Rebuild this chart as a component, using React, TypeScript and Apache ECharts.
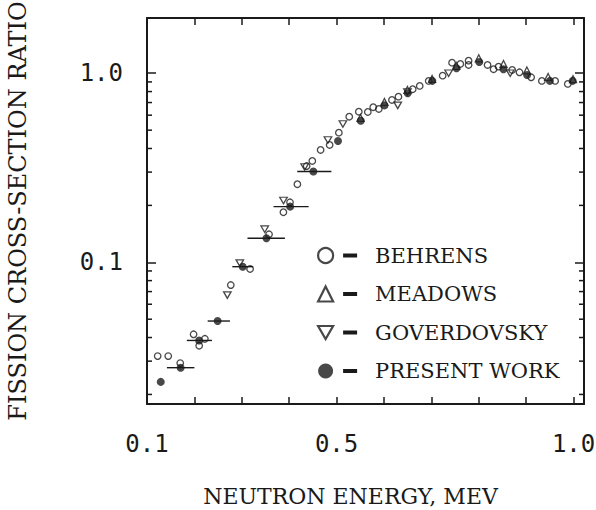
import React, { useEffect, useRef } from "react";
import * as echarts from "echarts";

// ---- data ----
const behrensX = [0.1225, 0.1448, 0.1701, 0.1983, 0.2221, 0.2101, 0.2768, 0.3175, 0.3575, 0.3878, 0.4017, 0.4173, 0.4368, 0.4488, 0.4663, 0.4853, 0.5048, 0.5267, 0.5469, 0.5659, 0.5773, 0.5891, 0.6168, 0.6305, 0.6606, 0.6754, 0.6943, 0.7238, 0.7436, 0.7611, 0.7785, 0.7785, 0.8185, 0.8312, 0.8417, 0.8705, 0.8859, 0.9105, 0.9331, 0.9611, 0.9878];
const behrensY = [0.0319, 0.0319, 0.0293, 0.0416, 0.0394, 0.0362, 0.0758, 0.0922, 0.1407, 0.184, 0.2077, 0.2588, 0.323, 0.3435, 0.3927, 0.4176, 0.485, 0.589, 0.626, 0.624, 0.661, 0.647, 0.722, 0.752, 0.823, 0.857, 0.911, 0.971, 1.138, 1.12, 1.166, 1.106, 1.106, 1.05, 1.084, 1.041, 1.012, 0.952, 0.911, 0.911, 0.878];

const meadowsX = [0.5505, 0.601, 0.6495, 0.7015, 0.7526, 0.8, 0.8522, 0.9015, 0.9463, 0.9989];
const meadowsY = [0.58, 0.705, 0.816, 0.933, 1.093, 1.2, 1.12, 1.035, 0.956, 0.93];

const goverX = [0.2695, 0.2958, 0.3484, 0.388, 0.4326, 0.4817, 0.5133, 0.629, 0.6495, 0.7364, 0.8663];
const goverY = [0.0671, 0.0991, 0.1496, 0.2123, 0.3192, 0.4436, 0.539, 0.677, 0.796, 1.0, 1.0];

const presentX = [0.129, 0.171, 0.21, 0.249, 0.302, 0.352, 0.402, 0.451, 0.503, 0.551, 0.601, 0.65, 0.702, 0.753, 0.801, 0.852, 0.902, 0.95, 0.998];
const presentY = [0.0233, 0.0277, 0.0386, 0.0489, 0.0948, 0.134, 0.197, 0.302, 0.438, 0.561, 0.676, 0.784, 0.911, 1.063, 1.148, 1.05, 0.979, 0.911, 0.911];
// energy resolution (horizontal bars) for the low-energy points, index-matched to presentX
const presentXLow = [null, 0.142, 0.184, 0.228, 0.28, 0.312, 0.367, 0.417];
const presentXHigh = [null, 0.2, 0.237, 0.275, 0.324, 0.391, 0.441, 0.489];

const xTickLabels = ["0.1", "0.5", "1.0"];
const yTickLabels = ["0.1", "1.0"];
const yMinorTicks = [0.02, 0.03, 0.04, 0.05, 0.06, 0.07, 0.08, 0.09, 0.2, 0.3, 0.4, 0.5, 0.6, 0.7, 0.8, 0.9];

const seriesNames = ["BEHRENS", "MEADOWS", "GOVERDOVSKY", "PRESENT WORK"];

const X_MIN = 0.1;
const X_MAX = 1.022;
const Y_MIN = 0.0178;
const Y_MAX = 1.96;

const INK = "#1a1a1a";
const SERIF = "'DejaVu Serif', 'Liberation Serif', serif";
const NUM = "'DejaVu Sans Mono', monospace";
const DOWN_TRI = "path://M0,0L10,0L5,8.66Z";

export default function App() {
  const ref = useRef<HTMLDivElement>(null);

  useEffect(() => {
    if (!ref.current) return;
    const chart = echarts.init(ref.current, undefined, { renderer: "svg" });

    const zip = (xs: number[], ys: number[]) => xs.map((x, i) => [x, ys[i]]);
    const errData: number[][] = [];
    presentXLow.forEach((lo, i) => {
      const hi = presentXHigh[i];
      if (lo != null && hi != null) errData.push([lo, hi, presentY[i]]);
    });

    const legendRich = {
      s: { width: 5, height: 4, lineHeight: 26 },
      d: { width: 14, height: 4, backgroundColor: INK, lineHeight: 26 },
      g: { width: 18, height: 4, lineHeight: 26 },
      n: { fontFamily: SERIF, fontSize: 21, color: INK, lineHeight: 26 },
    };

    const xAxisCommon = {
      type: "value" as const,
      min: X_MIN,
      max: X_MAX,
      interval: 0.1,
      splitLine: { show: false },
      axisLine: { show: true, lineStyle: { color: INK, width: 2 } },
      axisTick: { show: true, inside: true, length: 7, lineStyle: { color: INK, width: 1.5 } },
    };
    const yAxisCommon = {
      type: "log" as const,
      logBase: 10,
      min: Y_MIN,
      max: Y_MAX,
      splitLine: { show: false },
      axisLine: { show: true, lineStyle: { color: INK, width: 2 } },
      axisTick: { show: true, inside: true, length: 9, lineStyle: { color: INK, width: 1.5 } },
    };

    chart.setOption({
      animation: false,
      backgroundColor: "#ffffff",
      grid: { left: 147, right: 12, top: 18, bottom: 106, containLabel: false, outerBoundsMode: "none" },
      xAxis: [
        {
          ...xAxisCommon,
          position: "bottom",
          name: "NEUTRON ENERGY, MEV",
          nameLocation: "middle",
          nameGap: 81,
          nameTextStyle: { fontFamily: SERIF, fontSize: 22, color: INK, padding: [0, 30, 0, 0] },
          axisLabel: {
            show: true,
            margin: 28,
            fontFamily: NUM,
            fontSize: 24,
            color: INK,
            showMinLabel: true,
            showMaxLabel: false,
            formatter: (v: number) => {
              const s = v.toFixed(1);
              return xTickLabels.includes(s) && Math.abs(v - parseFloat(s)) < 1e-6 ? s : "";
            },
          },
        },
        {
          ...xAxisCommon,
          position: "top",
          axisLabel: { show: false },
        },
      ],
      yAxis: [
        {
          ...yAxisCommon,
          position: "left",
          name: "FISSION CROSS-SECTION RATIO",
          nameLocation: "middle",
          nameGap: 117,
          nameRotate: 90,
          nameTextStyle: { fontFamily: SERIF, fontSize: 24, color: INK },
          axisLabel: {
            show: true,
            margin: 24,
            fontFamily: NUM,
            fontSize: 24,
            color: INK,
            showMinLabel: false,
            showMaxLabel: false,
            formatter: (v: number) => {
              const s = v.toFixed(1);
              return yTickLabels.includes(s) && Math.abs(v - parseFloat(s)) < 1e-6 ? s : "";
            },
          },
        },
        {
          ...yAxisCommon,
          position: "right",
          axisLabel: { show: false },
        },
      ],
      legend: {
        orient: "vertical",
        left: 317,
        top: 245,
        padding: 0,
        itemGap: 17.5,
        itemWidth: 15,
        itemHeight: 15,
        selectedMode: false,
        textStyle: { fontFamily: SERIF, fontSize: 21, color: INK, rich: legendRich },
        formatter: (name: string) => `{s| }{d| }{g| }{n|${name}}`,
        data: [
          { name: seriesNames[0], icon: "circle", itemStyle: { color: "#ffffff", borderColor: INK, borderWidth: 2.2 } },
          { name: seriesNames[1], icon: "triangle", itemStyle: { color: "#ffffff", borderColor: INK, borderWidth: 2.2 } },
          { name: seriesNames[2], icon: DOWN_TRI, itemStyle: { color: "#ffffff", borderColor: INK, borderWidth: 2.2 } },
          { name: seriesNames[3], icon: "circle", itemStyle: { color: INK, borderWidth: 0 } },
        ],
      },
      series: [
        {
          name: "minor ticks",
          type: "custom",
          silent: true,
          xAxisIndex: 0,
          yAxisIndex: 0,
          clip: false,
          encode: { x: 0, y: 1 },
          data: yMinorTicks.map((v) => [0.5, v]),
          renderItem: (params: any, api: any) => {
            const cs = params.coordSys;
            const p = api.coord([0.5, api.value(1)]);
            const style = { stroke: INK, lineWidth: 1.5 };
            return {
              type: "group",
              children: [
                { type: "line", shape: { x1: cs.x, y1: p[1], x2: cs.x + 5, y2: p[1] }, style },
                { type: "line", shape: { x1: cs.x + cs.width, y1: p[1], x2: cs.x + cs.width - 5, y2: p[1] }, style },
              ],
            };
          },
        },
        {
          name: "energy resolution",
          type: "custom",
          silent: true,
          xAxisIndex: 0,
          yAxisIndex: 0,
          encode: { x: [0, 1], y: 2 },
          data: errData,
          renderItem: (_params: any, api: any) => {
            const y = api.value(2);
            const p1 = api.coord([api.value(0), y]);
            const p2 = api.coord([api.value(1), y]);
            return {
              type: "line",
              shape: { x1: p1[0], y1: p1[1], x2: p2[0], y2: p2[1] },
              style: { stroke: INK, lineWidth: 1.4 },
            };
          },
        },
        {
          name: seriesNames[0],
          type: "scatter",
          symbol: "circle",
          symbolSize: 6.5,
          itemStyle: { color: "rgba(255,255,255,0)", borderColor: INK, borderWidth: 1.3 },
          data: zip(behrensX, behrensY),
        },
        {
          name: seriesNames[1],
          type: "scatter",
          symbol: "triangle",
          symbolSize: 7,
          itemStyle: { color: "rgba(255,255,255,0)", borderColor: INK, borderWidth: 1.3 },
          data: zip(meadowsX, meadowsY),
        },
        {
          name: seriesNames[2],
          type: "scatter",
          symbol: DOWN_TRI,
          symbolSize: [7.5, 6.5],
          itemStyle: { color: "rgba(255,255,255,0)", borderColor: INK, borderWidth: 1.3 },
          data: zip(goverX, goverY),
        },
        {
          name: seriesNames[3],
          type: "scatter",
          symbol: "circle",
          symbolSize: 8,
          z: 5,
          itemStyle: { color: INK },
          data: zip(presentX, presentY),
        },
      ],
    });

    return () => chart.dispose();
  }, []);

  return <div ref={ref} style={{ width: 596, height: 510, position: "fixed", left: 0, top: 0 }} />;
}
